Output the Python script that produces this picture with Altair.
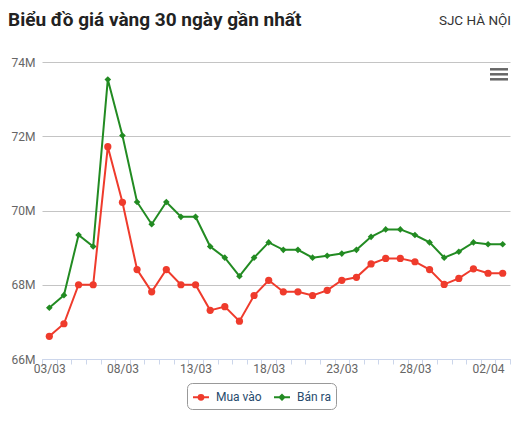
import altair as alt
import pandas as pd

# ---- data (values in millions VND) ----
dates = ["03/03", "04/03", "05/03", "06/03", "07/03", "08/03", "09/03", "10/03",
         "11/03", "12/03", "13/03", "14/03", "15/03", "16/03", "17/03", "18/03",
         "19/03", "20/03", "21/03", "22/03", "23/03", "24/03", "25/03", "26/03",
         "27/03", "28/03", "29/03", "30/03", "31/03", "01/04", "02/04", "03/04"]
mua_vao = [66.61, 66.95, 68.00, 68.00, 71.72, 70.22, 68.41, 67.81, 68.41, 68.00,
           68.00, 67.31, 67.41, 67.02, 67.71, 68.12, 67.81, 67.81, 67.71, 67.85,
           68.12, 68.20, 68.56, 68.71, 68.71, 68.62, 68.41, 68.01, 68.17, 68.43,
           68.31, 68.31]
ban_ra = [67.38, 67.72, 69.34, 69.03, 73.53, 72.02, 70.23, 69.63, 70.23, 69.83,
          69.83, 69.03, 68.73, 68.23, 68.73, 69.14, 68.94, 68.94, 68.73, 68.78,
          68.84, 68.94, 69.29, 69.49, 69.49, 69.34, 69.14, 68.73, 68.89, 69.14,
          69.09, 69.09]
series_names = ["Mua vào", "Bán ra"]
series_colors = ["#ef3b2c", "#228b22"]
label_dates = ["03/03", "08/03", "13/03", "18/03", "23/03", "28/03", "02/04"]
y_ticks = [66, 68, 70, 72, 74]
title_text = "Biểu đồ giá vàng 30 ngày gần nhất"
subtitle_text = "SJC HÀ NỘI"

rows = []
for d, v in zip(dates, mua_vao):
    rows.append({"date": d, "series": series_names[0], "value": v})
for d, v in zip(dates, ban_ra):
    rows.append({"date": d, "series": series_names[1], "value": v})
df = pd.DataFrame(rows)

label_expr = "indexof(" + str(label_dates) + ", datum.label) >= 0 ? datum.label : ''"

x_enc = alt.X(
    "date:O", sort=dates,
    scale=alt.Scale(type="band", paddingInner=0, paddingOuter=0),
    axis=alt.Axis(title=None, labelAngle=0, tickBand="extent", labelExpr=label_expr,
                  domainColor="#ccd6eb", tickColor="#ccd6eb", tickSize=5,
                  labelColor="#666666", labelFontSize=12, labelPadding=-1,
                  grid=False, labelFont="Roboto"),
)
y_enc = alt.Y(
    "value:Q",
    scale=alt.Scale(domain=[66, 74], nice=False, zero=False),
    axis=alt.Axis(title=None, values=y_ticks, labelExpr="datum.value + 'M'",
                  domain=False, ticks=False, gridColor="#c4c4c4",
                  labelColor="#666666", labelFontSize=12, labelPadding=7,
                  labelFont="Roboto"),
)

base = alt.Chart(df)

layers = []
marker_shapes = ["circle", "diamond"]
marker_sizes = [52, 44]
for name, col, shp, sz in zip(series_names, series_colors, marker_shapes, marker_sizes):
    sub = base.transform_filter(alt.datum.series == name)
    layers.append(sub.mark_line(strokeWidth=2, color=col).encode(x=x_enc, y=y_enc))
    layers.append(sub.mark_point(shape=shp, filled=True, size=sz, opacity=1, color=col)
                  .encode(x=x_enc, y=y_enc))

legend_shapes = [
    "M-1,0L1,0M0.3,0A0.3,0.3,0,1,1,-0.3,0A0.3,0.3,0,1,1,0.3,0Z",
    "M-1,0L1,0M0,-0.3L0.3,0L0,0.3L-0.3,0Z",
]


def leg():
    return alt.Legend(title=None, orient="none", legendX=145, legendY=321,
                      direction="horizontal")


legend_layer = base.mark_point(filled=True, opacity=1).encode(
    x=x_enc, y=y_enc,
    fill=alt.Fill("series:N", scale=alt.Scale(domain=series_names, range=series_colors), legend=leg()),
    stroke=alt.Stroke("series:N", scale=alt.Scale(domain=series_names, range=series_colors), legend=leg()),
    shape=alt.Shape("series:N", scale=alt.Scale(domain=series_names, range=legend_shapes), legend=leg()),
).transform_filter("false")

title_df = pd.DataFrame({"t": [title_text]})
sub_df = pd.DataFrame({"t": [subtitle_text]})
title_mark = alt.Chart(title_df).mark_text(
    font="Roboto", fontSize=19, fontWeight="bold", color="#222222",
    align="left", baseline="alphabetic"
).encode(text="t:N", x=alt.value(-34), y=alt.value(-36))
sub_mark = alt.Chart(sub_df).mark_text(
    font="Roboto", fontSize=13.5, color="#333333",
    align="right", baseline="alphabetic"
).encode(text="t:N", x=alt.value(469), y=alt.value(-37.5))

icon_df = pd.DataFrame({"k": [0]})
icon_layers = [
    alt.Chart(icon_df).mark_rule(color="#666666", strokeWidth=2.5).encode(
        x=alt.value(448), x2=alt.value(466), y=alt.value(yy))
    for yy in (7.3, 12.3, 17.3)
]

chart = alt.layer(*layers, legend_layer, title_mark, sub_mark, *icon_layers).properties(
    width=468, height=297,
    autosize=alt.AutoSizeParams(type="none"),
    padding={"left": 34, "top": 54, "right": 2, "bottom": 51},
).configure(font="Roboto").configure_view(stroke=None).configure_legend(
    symbolSize=256, symbolStrokeWidth=2, labelOffset=6, columnPadding=8,
    padding=5, strokeColor="#999999", cornerRadius=5, fillColor="white",
    labelFontSize=12, labelFont="Roboto", labelColor="#274b6d",
)

chart.save("out.html", embed_options={"renderer": "svg", "actions": False})
